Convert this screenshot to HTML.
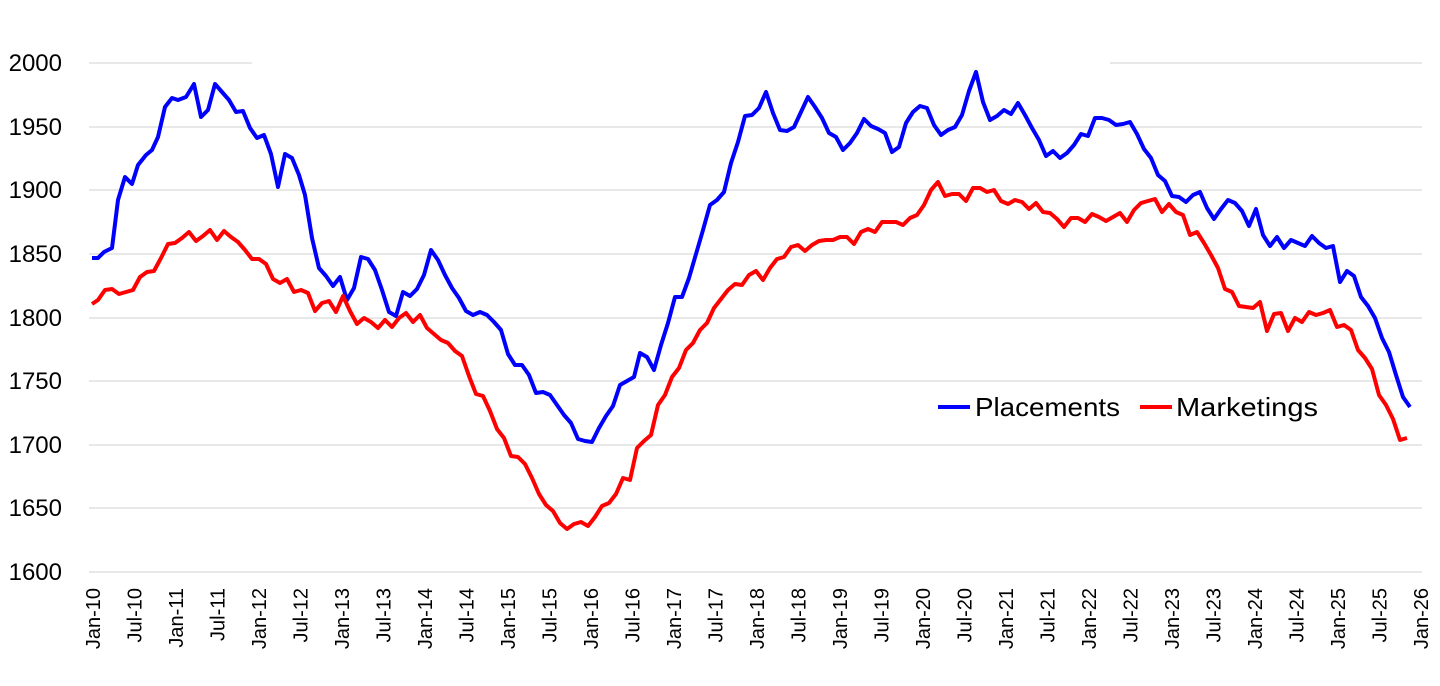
<!DOCTYPE html>
<html><head><meta charset="utf-8"><style>
html,body{margin:0;padding:0;background:#fff;}
svg{display:block;font-family:"Liberation Sans",sans-serif;}
</style></head><body>
<svg width="1440" height="686" viewBox="0 0 1440 686" xmlns="http://www.w3.org/2000/svg">
<g stroke="#d9d9d9" stroke-width="1.3">
<line x1="89" y1="63" x2="252" y2="63"/><line x1="1110" y1="63" x2="1422" y2="63"/>
<line x1="89" y1="127" x2="1422" y2="127"/>
<line x1="89" y1="190" x2="1422" y2="190"/>
<line x1="89" y1="254" x2="1422" y2="254"/>
<line x1="89" y1="318" x2="1422" y2="318"/>
<line x1="89" y1="381" x2="1422" y2="381"/>
<line x1="89" y1="445" x2="1422" y2="445"/>
<line x1="89" y1="508" x2="1422" y2="508"/>
<line x1="89" y1="572" x2="1422" y2="572"/>
</g>
<g font-size="24" fill="#000" text-anchor="end">
<text x="62" y="71">2000</text><text x="62" y="135">1950</text><text x="62" y="198">1900</text>
<text x="62" y="262">1850</text><text x="62" y="326">1800</text><text x="62" y="389">1750</text>
<text x="62" y="453">1700</text><text x="62" y="516">1650</text><text x="62" y="580">1600</text>
</g>
<g font-size="20" fill="#000" text-anchor="end">
<text transform="translate(100,588) rotate(-90)">Jan-10</text>
<text transform="translate(141.5,588) rotate(-90)">Jul-10</text>
<text transform="translate(183,588) rotate(-90)">Jan-11</text>
<text transform="translate(224.5,588) rotate(-90)">Jul-11</text>
<text transform="translate(266,588) rotate(-90)">Jan-12</text>
<text transform="translate(307.5,588) rotate(-90)">Jul-12</text>
<text transform="translate(349,588) rotate(-90)">Jan-13</text>
<text transform="translate(390.5,588) rotate(-90)">Jul-13</text>
<text transform="translate(432,588) rotate(-90)">Jan-14</text>
<text transform="translate(473.5,588) rotate(-90)">Jul-14</text>
<text transform="translate(515,588) rotate(-90)">Jan-15</text>
<text transform="translate(556.5,588) rotate(-90)">Jul-15</text>
<text transform="translate(598,588) rotate(-90)">Jan-16</text>
<text transform="translate(639.5,588) rotate(-90)">Jul-16</text>
<text transform="translate(681,588) rotate(-90)">Jan-17</text>
<text transform="translate(722.5,588) rotate(-90)">Jul-17</text>
<text transform="translate(764,588) rotate(-90)">Jan-18</text>
<text transform="translate(805.5,588) rotate(-90)">Jul-18</text>
<text transform="translate(847,588) rotate(-90)">Jan-19</text>
<text transform="translate(888.5,588) rotate(-90)">Jul-19</text>
<text transform="translate(930,588) rotate(-90)">Jan-20</text>
<text transform="translate(971.5,588) rotate(-90)">Jul-20</text>
<text transform="translate(1013,588) rotate(-90)">Jan-21</text>
<text transform="translate(1054.5,588) rotate(-90)">Jul-21</text>
<text transform="translate(1096,588) rotate(-90)">Jan-22</text>
<text transform="translate(1137.5,588) rotate(-90)">Jul-22</text>
<text transform="translate(1179,588) rotate(-90)">Jan-23</text>
<text transform="translate(1220.5,588) rotate(-90)">Jul-23</text>
<text transform="translate(1262,588) rotate(-90)">Jan-24</text>
<text transform="translate(1303.5,588) rotate(-90)">Jul-24</text>
<text transform="translate(1345,588) rotate(-90)">Jan-25</text>
<text transform="translate(1386.5,588) rotate(-90)">Jul-25</text>
<text transform="translate(1428,588) rotate(-90)">Jan-26</text>
</g>
<polyline fill="none" stroke="#0000ff" stroke-width="4" stroke-linejoin="round" points="92,258 98,258 104,252 112,248 118,200 125,177 132,184 138,165 146,155 152,150 158,137 165,107 172,98 178,100 186,97 194,84 201,117 208,110 215,84 222,92 229,100 236,112 243,111 250,128 257,138 264,135 271,154 278,187 285,154 292,158 299,175 305,195 312,238 319,268 326,276 333,286 340,277 347,300 354,288 361,257 368,259 375,270 382,290 389,312 396,316 403,292 410,296 417,289 424,275 431,250 438,260 445,275 452,288 459,298 466,311 473,315 480,312 487,315 494,322 501,330 508,354 515,365 522,365 529,375 536,393 543,392 550,395 557,405 564,415 571,423 578,439 585,441 592,442 599,428 606,416 613,406 620,385 627,381 634,377 640,353 647,357 654,370 661,345 668,323 675,297 682,297 689,278 696,254 703,230 710,205 717,200 724,192 731,163 738,142 745,116 752,115 759,108 766,92 773,113 780,130 787,131 794,127 801,112 808,97 815,107 822,118 829,133 836,137 843,150 850,143 857,133 864,119 871,126 878,129 885,133 892,152 899,147 906,123 913,112 920,106 927,108 934,125 941,135 948,130 955,127 962,115 969,91 976,72 983,102 990,120 997,116 1004,110 1011,114 1018,103 1025,115 1032,128 1039,140 1046,156 1053,151 1060,158 1067,153 1074,145 1081,134 1088,136 1095,118 1102,118 1109,120 1116,125 1123,124 1130,122 1137,134 1144,149 1151,158 1158,175 1165,181 1172,196 1179,197 1186,202 1193,195 1200,192 1207,208 1214,219 1221,209 1228,200 1235,203 1242,211 1249,226 1256,209 1263,235 1270,246 1277,237 1284,248 1291,240 1298,243 1305,246 1312,236 1319,243 1326,248 1333,246 1340,282 1347,271 1354,276 1361,297 1368,306 1375,318 1382,338 1389,352 1396,375 1403,397 1410,407"/>
<polyline fill="none" stroke="#ff0000" stroke-width="4" stroke-linejoin="round" points="92,304 98,300 105,290 112,289 119,294 126,292 133,290 140,277 147,272 154,271 161,258 168,244 175,243 182,238 189,232 196,241 203,236 210,230 217,240 224,231 231,237 238,242 245,250 252,259 259,259 266,264 273,279 280,283 287,279 294,292 301,290 308,293 315,311 322,303 329,301 336,312 343,296 350,311 357,324 364,318 371,322 378,328 385,320 392,327 399,318 406,313 413,322 420,315 427,328 434,334 441,340 448,343 455,351 462,356 469,376 476,394 483,396 490,411 497,429 504,438 511,456 518,457 525,464 532,478 539,494 546,505 553,511 560,523 567,529 574,524 581,522 588,526 595,517 602,506 609,503 616,494 623,478 630,480 637,448 644,441 651,435 658,405 665,395 672,377 679,368 686,350 693,343 700,330 707,323 714,308 721,299 728,290 735,284 742,285 749,275 756,271 763,280 770,268 777,259 784,257 791,247 798,245 805,251 812,245 819,241 826,240 833,240 840,237 847,237 854,244 861,232 868,229 875,232 882,222 889,222 896,222 903,225 910,218 917,215 924,205 931,190 938,182 945,196 952,194 959,194 966,201 973,188 980,188 987,192 994,190 1001,201 1008,204 1015,200 1022,202 1029,209 1036,203 1043,212 1050,213 1057,219 1064,227 1071,218 1078,218 1085,222 1092,214 1099,217 1106,221 1113,217 1120,213 1127,222 1134,210 1141,203 1148,201 1155,199 1162,212 1169,204 1176,212 1183,215 1190,235 1197,232 1204,243 1211,255 1218,268 1225,289 1232,292 1239,306 1246,307 1253,308 1260,302 1267,331 1274,314 1281,313 1288,331 1295,318 1302,322 1309,312 1316,315 1323,313 1330,310 1337,327 1344,325 1351,330 1358,350 1365,358 1372,369 1379,395 1386,405 1393,419 1400,440 1407,438"/>
<line x1="938" y1="407" x2="970" y2="407" stroke="#0000ff" stroke-width="4"/>
<text x="975" y="416" font-size="26" textLength="145" lengthAdjust="spacingAndGlyphs">Placements</text>
<line x1="1140" y1="407" x2="1172" y2="407" stroke="#ff0000" stroke-width="4"/>
<text x="1176" y="416" font-size="26" textLength="142" lengthAdjust="spacingAndGlyphs">Marketings</text>
</svg>
</body></html>
